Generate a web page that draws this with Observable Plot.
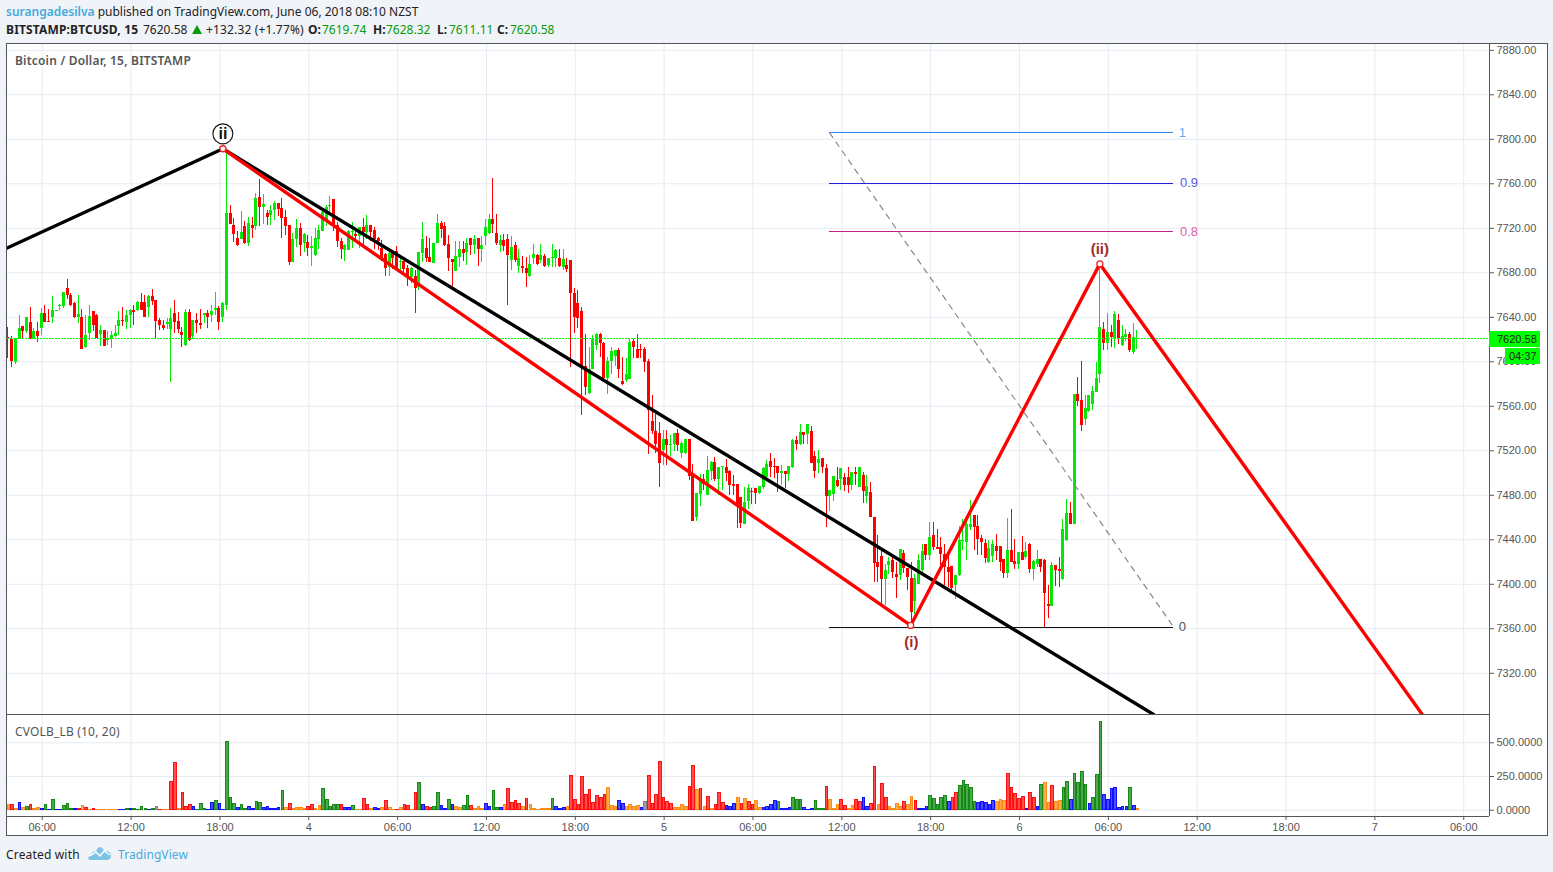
<!DOCTYPE html>
<html><head><meta charset="utf-8">
<script src="https://cdn.jsdelivr.net/npm/d3@7"></script>
<script src="https://cdn.jsdelivr.net/npm/@observablehq/plot@0.6"></script>
<style>
html,body{margin:0;padding:0;background:#f0f3f7;}
#page{position:relative;width:1553px;height:872px;overflow:hidden;background:#f0f3f7;font-family:"Noto Sans",sans-serif;color:#222;}
#page>*{position:absolute;}
.ln{background:#555;}
.t{white-space:nowrap;font-size:12px;line-height:17px;}
.g{color:#0a9a0a;}
b{font-weight:700;}
svg{overflow:visible;}
</style></head><body><div id="page">
<div style="left:6px;top:43px;width:1540px;height:791px;border:1px solid #555;background:#fff"></div>
<div id="price" style="left:0;top:43px"></div>
<div id="vol" style="left:0;top:715px"></div>
<div class="ln" style="left:6px;top:714px;width:1483px;height:1px"></div>
<div class="ln" style="left:6px;top:816px;width:1483px;height:1px"></div>
<div class="ln" style="left:1489px;top:43px;width:1px;height:773px"></div>
<div class="t" style="left:6px;top:3px"><span style="color:#45a9de;font-weight:600">surangadesilva</span> published on TradingView.com, June 06, 2018 08:10 NZST</div>
<div class="t" style="left:6px;top:21px;letter-spacing:.15px"><b>BITSTAMP:BTCUSD, 15</b></div>
<div class="t" style="left:143px;top:21px">7620.58</div>
<div style="left:192px;top:25px;width:0;height:0;border-left:5.5px solid transparent;border-right:5.5px solid transparent;border-bottom:9px solid #0a9a0a"></div>
<div class="t" style="left:206px;top:21px;letter-spacing:.15px">+132.32 (+1.77%)</div>
<div class="t" style="left:308px;top:21px"><b>O:</b></div><div class="t g" style="left:322px;top:21px">7619.74</div>
<div class="t" style="left:373px;top:21px"><b>H:</b></div><div class="t g" style="left:386px;top:21px">7628.32</div>
<div class="t" style="left:437px;top:21px"><b>L:</b></div><div class="t g" style="left:449px;top:21px">7611.11</div>
<div class="t" style="left:497px;top:21px"><b>C:</b></div><div class="t g" style="left:510px;top:21px">7620.58</div>
<div class="t" style="left:15px;top:52px;color:#555;font-weight:600;letter-spacing:.2px">Bitcoin / Dollar, 15, BITSTAMP</div>
<div class="t" style="left:15px;top:723px;color:#555;letter-spacing:.18px">CVOLB_LB (10, 20)</div>
<div class="t" style="left:1489px;top:331px;width:51px;height:16px;background:#00ff00;color:#222;font:11px/16px 'Liberation Sans';text-indent:8px">7620.58</div>
<div class="t" style="left:1505px;top:348px;width:35px;height:16px;background:#00ff00;color:#222;font:11px/16px 'Liberation Sans';text-indent:4px">04:37</div>
<div class="t" style="left:6px;top:846px;letter-spacing:.17px">Created with</div>
<svg style="left:87px;top:845px" width="25" height="16" viewBox="0 0 25 16"><path d="M1 13 L6 7 Q7 6 9 6 L11 3 Q13 1 15 3 L18 6 Q24 6 24 11 Q24 15 19 15 L5 15 Q1 15 1 13 Z" fill="#7cc4e6"/><path d="M3 11 L9 7 L13 11 L17 6 L23 10" fill="none" stroke="#fff" stroke-width="1.5"/></svg>
<div class="t" style="left:118px;top:846px;color:#45a9de;letter-spacing:.08px">TradingView</div>
</div>
<script>
const opens=[7622,7620,7599,7620,7631.6,7627,7635,7620.5,7627,7630,
7643,7636,7640,7645,7650,7650,7666,7660,7652,7640,
7640,7613,7625,7645,7642,7624.5,7628,7619,7620,7623,
7631.6,7637,7635,7641.5,7646,7646,7653,7653,7649,7658.6,
7655,7637,7632.5,7633.4,7629,7643,7636,7626,7614.5,7644,
7622.6,7637,7634,7642,7643,7641.5,7646,7648,7640,7651,
7733,7722.5,7711,7710,7721.6,7706,7722.5,7721.6,7747.7,7738.7,
7733,7731.5,7736,7742,7738,7730,7722.5,7689,7710,7720,
7706,7707,7702,7695.5,7710,7717,7727,7740,7746,7722.5,
7708,7700,7700,7716,7714,7712.6,7720.7,7716,7722.5,7718,
7711,7702,7696.4,7684.7,7698,7699,7689,7690,7684,7675.7,
7676.6,7666.7,7697,7702,7693.7,7688,7706,7724,7721.6,7705.4,
7692,7681,7693.7,7701,7698,7711,7704.5,7711,7701,7712.6,
7715.3,7728,7715.3,7704.5,7709,7710,7691,7704.5,7685.6,7685.6,
7683.8,7676.6,7692.8,7695.5,7691,7694.6,7686.5,7692.5,7692.8,7692.8,
7684.7,7686.5,7691,7661.3,7652.3,7645,7595.6,7571.6,7593.5,7614.5,
7624.4,7616.3,7584.8,7600,7604.6,7610,7582,7583,7584,7618,
7611,7611,7611,7600,7546,7537,7535.3,7520,7530,7524.5,
7525.4,7535.3,7518,7518,7530,7497.5,7459.7,7480.4,7493.9,7479.5,
7501,7509.2,7493.9,7505,7504.7,7501,7489.4,7490,7477.7,7454,
7474,7483,7485.8,7482,7486.7,7495.7,7510,7505.6,7505.6,7499.6,
7501,7498.4,7504.7,7529,7525.4,7536.2,7534.4,7537,7514.6,7508.3,
7512.8,7503.8,7478.6,7480.7,7493,7493.9,7495.7,7495.7,7488.5,7500.2,
7487,7497.8,7479,7482.5,7460,7419.5,7425,7404.2,7416.8,7421.3,
7408.7,7407.8,7427.6,7414,7405,7384.4,7399.7,7412.3,7435.7,7425.8,
7443.8,7432.7,7433,7426.7,7415,7416,7398.8,7407.8,7438.4,7437.8,
7451,7461.8,7451.9,7441,7436.6,7419.5,7425,7433.9,7433.9,7422,
7409.6,7430.3,7420.4,7417.7,7428.5,7424,7435.7,7413.2,7418,7422,
7421.3,7381.7,7379.9,7416.8,7413,7404.2,7439.3,7463.6,7453.7,7571,
7565,7547.9,7555,7562,7572,7588.4,7628.9,7616.3,7626.2,7620.8,
7637,7614.5,7621.7,7624.4,7608.2,7619.74];
const highs=[7631,7622.6,7621,7641.5,7632,7640,7649,7629.5,7635,7648,
7651,7647,7658.6,7646,7651.4,7662.5,7674,7661,7653,7659.5,
7647,7641.5,7650.5,7645,7642.5,7632.5,7628,7627,7627,7632.5,
7645,7648.7,7646,7647,7650.5,7654,7661,7660,7660,7665,
7655,7639,7637,7639,7648,7655,7644,7631,7647,7647,
7637,7643,7647,7643,7646,7650.5,7662,7649.6,7653,7790,
7740.5,7729,7717,7735,7726,7730,7730,7751,7764,7750,
7736,7740.5,7744,7742.5,7747,7736,7722.5,7715,7728,7724,
7715,7713.5,7712.6,7720,7722.5,7738,7740.5,7748.6,7746,7725,
7711,7705,7718,7725,7718,7721,7729,7731.5,7722.5,7721,
7712,7709,7697,7698,7700,7703.6,7692.5,7690,7686.5,7685,
7682,7698,7725,7712.6,7711,7706,7732,7726,7725,7713.5,
7692,7708,7708,7708,7711,7711,7713.5,7711,7712.6,7728,
7732.4,7764.8,7732.4,7713.5,7714.4,7714.4,7712.6,7707,7701,7694.6,
7693.7,7695.5,7705.4,7696,7705.4,7696,7693,7705,7701,7701,
7701,7692.8,7691,7665.8,7664,7648.7,7624.4,7612.7,7623.5,7625,
7625.3,7617,7603.7,7612.7,7610,7611.8,7603.7,7602.8,7620,7620,
7624.4,7615.4,7612.7,7602,7569.5,7552.4,7545,7538,7538,7534,
7535.6,7539,7528,7530,7530,7507.4,7482,7498.4,7498.4,7514.6,
7510,7513.7,7505,7506,7511.9,7502,7497.5,7490,7478,7486.7,
7489.4,7485.8,7486,7488,7504.7,7511,7518,7512.8,7505.6,7506.5,
7501,7506,7530,7532.6,7543.4,7536.2,7543.4,7541.6,7519,7520,
7513,7507.4,7484,7497,7504.7,7504,7499.3,7504.7,7500.2,7504.7,
7505.4,7500.5,7498,7491.5,7460,7443.8,7430.3,7417.7,7424,7424,
7420,7431.5,7430.3,7414.5,7420,7409,7426.7,7435.7,7436,7455.5,
7455.5,7449,7442,7435.7,7426.7,7416,7408,7452,7458,7455.5,
7475.3,7462,7461.8,7443.8,7440,7439.3,7439.3,7444.7,7434,7422.5,
7459,7467,7440,7429,7442.9,7437.5,7436.6,7421,7430.3,7422,
7422,7398.8,7419.5,7417,7424,7458.2,7476.2,7473.5,7571,7585.7,
7600,7570,7570,7577.6,7599,7688,7635,7643.3,7632.5,7645.1,
7642.4,7632.5,7629,7626.2,7634,7628.32];
const lows=[7603,7595,7598,7620,7620,7625,7620,7620,7617.5,7623.5,
7635,7635,7634,7645,7646,7648,7656,7650,7639,7634,
7611,7612,7619,7627,7621,7614,7614,7614.5,7612,7622,
7623.5,7631.6,7629,7630,7633,7645,7646,7640,7640,7650.5,
7621,7628,7628,7629,7581.5,7625,7625,7612.5,7614,7618,
7620,7625,7629,7634,7630,7635,7642,7628,7635,7646,
7723,7707,7704,7710,7705,7703.6,7711,7718,7721.6,7723.4,
7722.5,7722.5,7727,7730.6,7711,7713.5,7687,7689,7702.7,7694.6,
7698,7694.6,7685.6,7695,7701,7717,7722,7731.5,7717,7703,
7692,7690,7700,7702,7709,7702,7704.5,7710,7708,7701,
7700,7690,7676.6,7676.6,7683,7682,7679,7678.4,7667.6,7670,
7643,7664,7689,7689,7689,7688,7706,7711,7703.6,7681,
7667.6,7681,7684.7,7690,7686.5,7695.5,7696,7685.6,7689,7704.5,
7714,7715,7704.5,7698,7699,7650.5,7682,7689,7679,7679,
7666.7,7676,7687.4,7687,7688,7685,7685,7685,7685,7685,
7682,7680,7594.7,7625,7630,7551.5,7570,7571,7593,7610,
7603.7,7583,7570.4,7589,7595.6,7584.8,7579,7581,7584,7602.8,
7602.8,7602.8,7590.2,7516.4,7534.4,7518,7486.7,7506.5,7506.5,7515,
7519.4,7519,7512.8,7517,7493,7456,7456,7469.6,7484,7479.5,
7493,7492,7479.5,7484,7492,7479.5,7479.5,7449.8,7449.8,7454,
7467,7471.4,7471.4,7481,7485,7493,7495.7,7494.8,7482.2,7488.5,
7485.8,7492,7504,7520,7525,7525.4,7525.4,7508.3,7494.8,7500,
7499.3,7450.7,7465,7474,7487,7484,7483,7482,7484,7488.5,
7487,7472.6,7472.6,7460,7401.5,7402,7380.8,7380.8,7408.7,7405,
7387,7403,7410,7394.3,7366.4,7373,7399.7,7410,7421.3,7421.3,
7430,7431,7416.8,7398.8,7397,7394,7386.2,7407,7430,7421.3,
7448,7430.3,7425.8,7425.8,7418.6,7419,7420,7421.3,7411.4,7405,
7405,7419.5,7413,7413,7421,7422,7410,7403.3,7415,7411,
7361,7369.1,7379.9,7397.9,7397,7403.3,7438.4,7453.7,7453.7,7560,
7537,7542.5,7554,7556,7572,7580.3,7610,7610,7612.7,7611.8,
7615.4,7614,7618,7608.2,7607,7611.11];
const closes=[7620,7600,7620,7629.5,7627,7639.7,7620.5,7627,7623,7643,
7635,7635,7646,7646,7651,7662,7659.5,7651,7640,7642.5,
7611,7623.5,7640.6,7632.5,7621,7628,7614,7621,7623.5,7625,
7637,7636,7642,7646,7644,7653,7646,7640,7658.6,7654,
7636,7632.5,7630,7635,7639,7635,7629,7623.5,7644,7619,
7637,7634,7633,7643,7640,7645,7648,7635,7652,7733,
7723.4,7714.4,7704.5,7716,7706,7724,7720,7747,7738.7,7741.4,
7729.7,7736,7742,7737,7729,7721.6,7689,7710,7720,7704.5,
7714.4,7702,7703.6,7711,7718,7734,7738.7,7740.5,7722.5,7708,
7701,7704.5,7717,7717,7712.6,7720.7,7716,7722.5,7716,7710,
7708,7691,7684,7697,7693,7683,7690,7683,7676.6,7684,
7666,7698,7710,7693,7689,7706,7724,7719,7704.5,7693,
7689,7694.6,7701,7697,7706,7704.5,7710,7701,7704.5,7720.7,
7728,7723.4,7706,7709,7703.6,7695.5,7702.7,7691,7692.8,7684,
7679,7687.4,7696.4,7687.4,7695.5,7685.6,7692.8,7693.4,7700,7685.6,
7692,7683,7661.3,7639.7,7638.8,7596,7576.7,7593.5,7620,7624.4,
7616.6,7584.8,7600,7609,7610,7593,7579.4,7588.4,7617,7612.7,
7602.8,7610,7599,7556,7537,7525.4,7508.3,7530,7524.5,7525.4,
7535.3,7524.5,7527,7530,7496.6,7456,7481.3,7493.9,7489.4,7502,
7509.2,7493.9,7504.7,7505.6,7500,7488.5,7488,7471.4,7455,7473.2,
7485.8,7482.4,7481.3,7487.6,7503.8,7507.4,7504.7,7505,7499.3,7501,
7498.4,7505.6,7529,7525.4,7536.2,7533.5,7543.4,7508.3,7501,7511.9,
7504.7,7478.6,7484,7496.6,7487.6,7503.8,7488.5,7488.5,7500.2,7498.4,
7505,7483.4,7488,7460,7418.6,7415,7404,7412.3,7420.4,7410.5,
7406,7431.2,7414,7406,7374.5,7405,7421.3,7429.4,7425.8,7442,
7433,7431,7426.7,7415,7410.5,7396,7407.8,7439.3,7439.3,7453.7,
7454,7451.3,7440,7437.5,7423,7431.8,7435.7,7429.4,7419.5,7409.6,
7430.3,7419.5,7417.7,7428.5,7421.3,7429.4,7413.2,7420.4,7422,7415,
7391.6,7379.9,7416.8,7412.3,7411.4,7449.2,7463.6,7453.7,7571,7564,
7542.5,7557.8,7569.5,7573,7584.8,7630.7,7616.3,7626.2,7621.7,7642.4,
7620.8,7622.6,7624.4,7610,7621.7,7620.58];
const volumes=[37,37,7,57,15,27,42,7,20,12,
42,5,79,2,5,34,49,12,12,12,
34,20,5,12,5,5,5,5,5,2,
5,5,12,12,12,5,27,12,5,12,
27,5,5,5,212,352,12,130,27,42,
27,5,49,12,5,57,71,49,5,507,
94,49,20,42,12,27,12,64,57,20,
27,12,12,20,145,20,49,12,20,20,
12,27,42,12,34,160,79,27,42,42,
42,20,20,34,5,5,86,42,12,20,
12,20,71,20,2,5,20,42,34,5,
130,204,42,27,20,27,130,34,12,79,
42,27,20,34,108,34,12,27,12,49,
27,145,20,20,42,160,57,71,49,27,
86,42,12,5,12,12,12,86,27,12,
20,27,256,79,42,248,116,153,57,108,
94,116,167,34,27,71,49,27,42,27,
34,20,64,256,49,116,359,94,64,49,
20,20,42,27,175,330,153,160,27,101,
12,42,130,57,34,27,49,94,49,86,
64,42,71,20,20,27,42,71,64,12,
12,20,94,79,79,20,5,12,71,12,
12,175,79,12,42,79,34,12,34,79,
64,94,27,49,322,42,197,94,27,12,
49,27,64,42,101,71,12,12,27,108,
86,42,94,108,64,94,130,182,219,189,
167,64,57,64,57,42,71,64,79,71,
271,167,123,86,101,12,130,94,27,189,
204,57,182,64,71,167,212,79,271,204,
285,189,49,94,263,654,116,79,160,167,
20,27,27,167,34,12];
const volumeClass=("o r o b o g r o o b g b g b b g g g b r "+
"o r o r o o o o o o b b g b g g g g b g "+
"y r o o r r o r r r b g g g b b g b b g "+
"g g b g g b b g g b b b b b g o r o o o "+
"o r r o o g g g g g r b b g o o r r o b "+
"b o r o o r o r r o r g b r r g g b b g "+
"b o o g g r o o o b b g g b o r r r r o "+
"r o o o o o o g b b b o r r r r r r r r "+
"r r o o o b b o o o o b y r r r r r r r "+
"o o o o r r o r o r o r r r b b b o r o "+
"r r o o b b b b g b b b g g g b b b g g "+
"g r o o o r r o o r r b b r r o r r o o "+
"o o r o o r b b b g g g g g b r r g g g "+
"g g b b b b b o o o r r r r r b r r b g "+
"o o r o o g g b g g g g b g g g b b b b "+
"b b b g b o").split(" ");

const priceTicks=[7320,7360,7400,7440,7480,7520,7560,7600,7640,7680,7720,7760,7800,7840,7880];
const volumeTicks=[0,250,500];
const timeTickBars=[9,33,57,81,105,129,153,177,201,225,249,273,297,321,345,369,393];
const timeTickLabels=["06:00","12:00","18:00","4","06:00","12:00","18:00","5","06:00","12:00","18:00","6","06:00","12:00","18:00","7","06:00"];

const blackWaveBar=[-0.5,57.8,309.2];
const blackWavePrice=[7702.3,7791.5,7283];
const redWaveBar=[57.8,243.6,294.7,381.8];
const redWavePrice=[7791.5,7363,7688,7283];
const fibLevels=[1,0.9,0.8,0];
const fibPrices=[7805.7,7760.7,7716.7,7361.6];
const fibLineColors=["#3a86f0","#2222dd","#c02090","#111111"];
const fibTextColors=["#6aa5f5","#5a5ae0","#e060b0","#555555"];
const fibLabelBar=[317,318.8,318.8,317];
const fibStartBar=221.7, fibEndBar=314.6;
const lastPrice=7620.58;

const candleGreen="#05e805", candleRed="#ff0000", gridColor="#e4ecf2";
const volColor={r:"#ff1010",g:"#138a13",b:"#1010ff",o:"#ff8c10",y:"#808080"};

const bars=opens.map((o,i)=>({i,o,h:highs[i],l:lows[i],c:closes[i],v:volumes[i],k:volColor[volumeClass[i]]}));
const candleColor=d=>d.c>=d.o?candleGreen:candleRed;
const xDomain=[-0.378,399.96];
const font="Liberation Sans, Arial, sans-serif";
const commonStyle={background:"transparent",fontFamily:font,fontSize:"11px",overflow:"visible"};

const price=Plot.plot({
  width:1553,height:672,marginLeft:7,marginRight:64,marginTop:1,marginBottom:1,
  style:commonStyle,
  x:{domain:xDomain,axis:null},
  y:{domain:[7282.96,7885.2],axis:null},
  color:{type:"identity"},
  marks:[
    Plot.gridX(timeTickBars,{stroke:gridColor,strokeOpacity:1}),
    Plot.gridY(priceTicks,{stroke:gridColor,strokeOpacity:1}),
    Plot.axisY(priceTicks,{anchor:"right",tickSize:4,tickPadding:3,tickFormat:d3.format(".2f"),color:"#555",label:null}),
    Plot.ruleX(bars,{x:"i",y1:"l",y2:"h",stroke:candleColor,strokeWidth:1,dx:-1,clip:true,shapeRendering:"crispEdges"}),
    Plot.ruleX(bars,{x:"i",y1:"o",y2:"c",stroke:candleColor,strokeWidth:3,dx:-1,clip:true,shapeRendering:"crispEdges"}),
    Plot.ruleY([lastPrice],{stroke:"#00ff00",strokeDasharray:"2,1",strokeWidth:1,shapeRendering:"crispEdges"}),
    Plot.line([fibStartBar,fibEndBar],{x:d=>d,y:(d,j)=>j?fibPrices[3]:fibPrices[0],stroke:"#888",strokeWidth:1.2,strokeDasharray:"5.5,5.5"}),
    Plot.ruleY(fibLevels,{y:(d,j)=>fibPrices[j],x1:fibStartBar,x2:fibEndBar,stroke:(d,j)=>fibLineColors[j],strokeWidth:1,shapeRendering:"crispEdges"}),
    Plot.text(fibLevels,{x:(d,j)=>fibLabelBar[j],y:(d,j)=>fibPrices[j],text:d=>String(d),fill:(d,j)=>fibTextColors[j],fontSize:13}),
    Plot.line(blackWaveBar,{x:d=>d,y:(d,j)=>blackWavePrice[j],stroke:"#000",strokeWidth:3.4,clip:true}),
    Plot.line(redWaveBar,{x:d=>d,y:(d,j)=>redWavePrice[j],stroke:"#ff0000",strokeWidth:3.4,clip:true}),
    Plot.dot([[57.8,7791.5],[243.6,7363],[294.7,7688]],{x:"0",y:"1",r:3,fill:"#fff",stroke:"#f02020",strokeWidth:1.3}),
    Plot.dot([[57.8,7804.9]],{x:"0",y:"1",r:10,fill:"#fff",stroke:"#111",strokeWidth:1.1}),
    Plot.text(["ii"],{x:57.8,y:7804.9,text:d=>d,fill:"#111",fontSize:16,fontWeight:"bold"}),
    Plot.text(["(i)"],{x:243.8,y:7347.9,text:d=>d,fill:"#a32a2a",fontSize:15,fontWeight:"bold"}),
    Plot.text(["(ii)"],{x:294.7,y:7701.5,text:d=>d,fill:"#a32a2a",fontSize:15,fontWeight:"bold"})
  ]
});
document.getElementById("price").append(price);

const vol=Plot.plot({
  width:1553,height:120,marginLeft:7,marginRight:64,marginTop:0,marginBottom:19,
  style:commonStyle,
  x:{domain:xDomain,axis:null},
  y:{domain:[-46.7,702.5],axis:null},
  color:{type:"identity"},
  marks:[
    Plot.gridX(timeTickBars,{stroke:gridColor,strokeOpacity:1}),
    Plot.gridY(volumeTicks,{stroke:gridColor,strokeOpacity:1}),
    Plot.axisY(volumeTicks,{anchor:"right",tickSize:4,tickPadding:3,tickFormat:d3.format(".4f"),color:"#555",label:null}),
    Plot.axisX(timeTickBars,{anchor:"bottom",tickSize:4,tickPadding:3,tickFormat:(d)=>timeTickLabels[timeTickBars.indexOf(d)],color:"#555",label:null,fontSize:11}),
    Plot.rect(bars,{x1:d=>d.i-0.36,x2:d=>d.i+0.36,y1:0,y2:"v",fill:"k",fillOpacity:0.75,stroke:"k",strokeWidth:1,shapeRendering:"crispEdges"})
  ]
});
document.getElementById("vol").append(vol);
</script>
</body></html>
